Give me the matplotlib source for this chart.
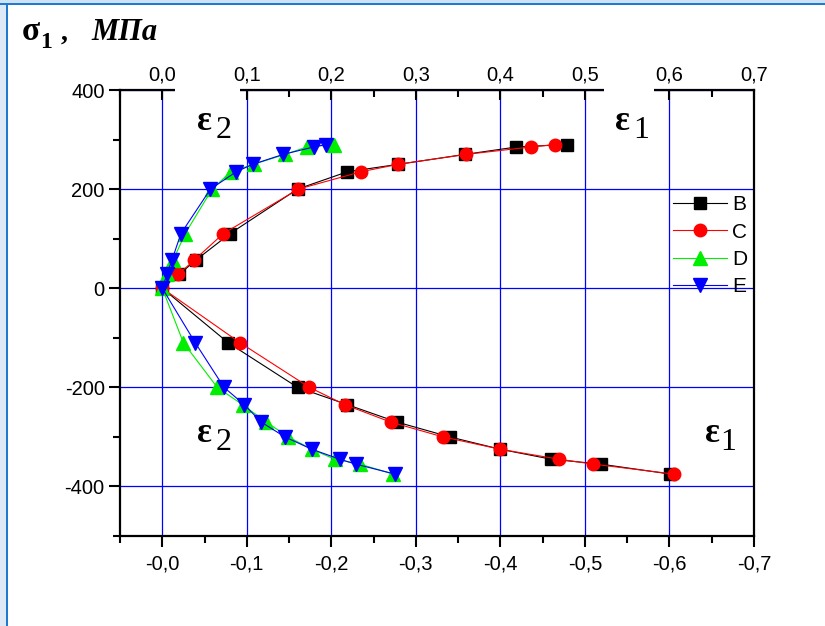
import matplotlib
matplotlib.use("Agg")
import matplotlib.pyplot as plt
from matplotlib.patches import Rectangle
from matplotlib.ticker import MultipleLocator, FuncFormatter

# Stress levels, MPa
stress_tension = [0, 28, 57, 110, 200, 235, 250, 270, 285, 290]
stress_compression = [0, -110, -200, -235, -270, -300, -325, -345, -355, -375]

# Strain magnitudes, tension branch
b_tension = [0, 0.020, 0.040, 0.080, 0.160, 0.219, 0.279, 0.358, 0.419, 0.479]
c_tension = [0, 0.019, 0.038, 0.072, 0.161, 0.235, 0.279, 0.359, 0.436, 0.465]
d_tension = [0, 0.006, 0.013, 0.027, 0.059, 0.081, 0.108, 0.145, 0.171, 0.203]
e_tension = [0, 0.0055, 0.0115, 0.022, 0.057, 0.0875, 0.107, 0.143, 0.179, 0.194]

# Strain magnitudes, compression branch
b_compression = [0, 0.078, 0.160, 0.219, 0.2775, 0.340, 0.400, 0.460, 0.519, 0.601]
c_compression = [0, 0.092, 0.174, 0.216, 0.270, 0.332, 0.400, 0.469, 0.510, 0.605]
d_compression = [0, 0.025, 0.065, 0.095, 0.123, 0.149, 0.177, 0.204, 0.234, 0.273]
e_compression = [0, 0.039, 0.073, 0.097, 0.117, 0.145, 0.177, 0.210, 0.229, 0.275]

series_names = ["B", "C", "D", "E"]
series_colors = ["black", "#ff0000", "#00ee00", "#0000ff"]
series_markers = ["s", "o", "^", "v"]
series_sizes = [8, 9, 9.5, 9.5]

TICK_SIZE = 14.5

W, H = 825, 626
fig = plt.figure(figsize=(W / 100, H / 100), dpi=100)
fig.patch.set_facecolor("white")


def fx(px):
    return px / W


def fy(py):
    return 1 - py / H


ax = fig.add_axes([fx(120), fy(536), fx(754) - fx(120), fy(90) - fy(536)])

tension = [b_tension, c_tension, d_tension, e_tension]
compression = [b_compression, c_compression, d_compression, e_compression]
for name, col, mk, ms, t, c in zip(series_names, series_colors, series_markers,
                                   series_sizes, tension, compression):
    xs = list(reversed(c)) + t[1:]
    ys = list(reversed(stress_compression)) + stress_tension[1:]
    ax.plot(xs, ys, color=col, lw=0.8, marker=mk, ms=ms, mec=col, mfc=col,
            label=name)

ax.set_xlim(-0.05, 0.7)
ax.set_ylim(-500, 400)
ax.xaxis.set_major_locator(MultipleLocator(0.1))
ax.xaxis.set_minor_locator(MultipleLocator(0.05))
ax.yaxis.set_major_locator(MultipleLocator(200))
ax.yaxis.set_minor_locator(MultipleLocator(100))
ax.xaxis.set_major_formatter(
    FuncFormatter(lambda v, p: "-" + f"{abs(v):.1f}".replace(".", ",")))
ax.yaxis.set_major_formatter(FuncFormatter(lambda v, p: f"{v:.0f}"))

ax.grid(True, which="major", color="#0000ff", lw=0.9)

ax.tick_params(axis="x", which="both", direction="out", top=False,
               labelsize=TICK_SIZE, pad=5)
ax.tick_params(axis="y", which="both", direction="out", right=False,
               labelsize=TICK_SIZE, pad=3)
ax.tick_params(which="major", length=8, width=1.5)
ax.tick_params(which="minor", length=5, width=1.5)
for s in ["left", "right", "bottom"]:
    ax.spines[s].set_linewidth(1.6)
ax.spines["top"].set_visible(False)
for lab in ax.get_xticklabels() + ax.get_yticklabels():
    lab.set_fontfamily("Liberation Sans")

# upper strain scale
top = ax.twiny()
top.set_xlim(ax.get_xlim())
top.xaxis.set_major_locator(MultipleLocator(0.1))
top.xaxis.set_minor_locator(MultipleLocator(0.05))
top.xaxis.set_major_formatter(
    FuncFormatter(lambda v, p: f"{abs(v):.1f}".replace(".", ",")))
top.tick_params(axis="x", which="both", direction="in", labelsize=TICK_SIZE,
                pad=4, width=1.5)
top.tick_params(axis="x", which="major", length=7)
top.tick_params(axis="x", which="minor", length=5)
for s in ["left", "right", "bottom"]:
    top.spines[s].set_visible(False)
top.spines["top"].set_linewidth(1.6)
for lab in top.get_xticklabels():
    lab.set_fontfamily("Liberation Sans")

leg = ax.legend(loc="upper left", bbox_to_anchor=(0.872, 0.764),
                frameon=False, borderaxespad=0, borderpad=0,
                handlelength=2.6, handletextpad=0.25, labelspacing=0.4,
                prop=dict(family="Liberation Sans", size=15))

# window frame
fig.add_artist(Rectangle((0, 0), fx(6), 1, transform=fig.transFigure,
                         color="#dde9f6", lw=0, zorder=1))
fig.add_artist(Rectangle((fx(6), 0), fx(2), 1, transform=fig.transFigure,
                         color="#1f7ad0", lw=0, zorder=1))
fig.add_artist(Rectangle((0, fy(3)), 1, 3 / H, transform=fig.transFigure,
                         color="#cfe1f4", lw=0, zorder=1))
fig.add_artist(Rectangle((0, fy(5)), 1, 2 / H, transform=fig.transFigure,
                         color="#1f7ad0", lw=0, zorder=1))

# white backgrounds behind the strain labels on the top border
for x0, x1 in [(175, 240), (604, 654)]:
    fig.add_artist(Rectangle((fx(x0), fy(150)), fx(x1) - fx(x0),
                             fy(86) - fy(150), transform=fig.transFigure,
                             color="white", lw=0, zorder=1))

# strain labels
eps_labels = [("2", 204, 122, 223.5, 131), ("1", 622, 122, 641, 131),
              ("2", 204, 433, 223.5, 442), ("1", 712, 433, 728, 443)]
for sub, ex, ey, sx, sy in eps_labels:
    fig.text(fx(ex), fy(ey), "ε", fontsize=25, family="Liberation Serif",
             fontweight="bold", ha="center", va="center", zorder=2)
    fig.text(fx(sx), fy(sy), sub, fontsize=23, family="Liberation Serif",
             ha="center", va="center", zorder=2)

# axis title
fig.text(fx(22), fy(40), "σ", fontsize=24, family="Liberation Serif",
         fontweight="bold", va="baseline")
fig.text(fx(40), fy(48), "1", fontsize=17, family="Liberation Serif",
         fontweight="bold", va="baseline")
fig.text(fx(61), fy(40), ",", fontsize=20, family="Liberation Serif",
         fontweight="bold", va="baseline")
fig.text(fx(91), fy(40), "МПа", fontsize=22, family="Liberation Serif",
         fontweight="bold", style="italic", va="baseline")

fig.savefig("out.png", dpi=100)
